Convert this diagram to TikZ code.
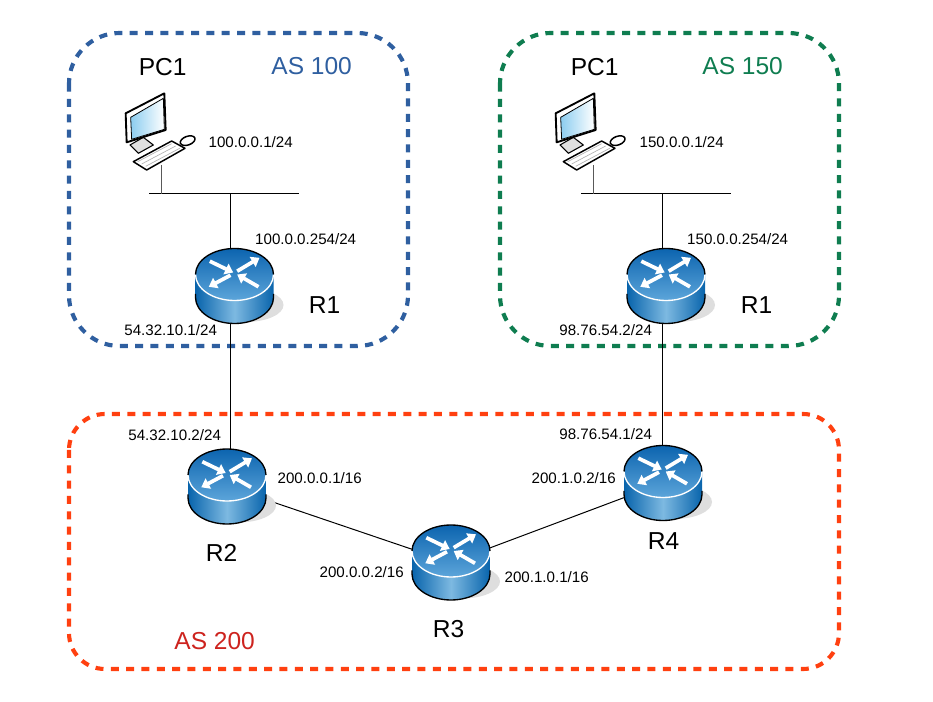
\documentclass[tikz,border=0pt]{standalone}
\usepackage{fontspec}
\setmainfont{Liberation Sans}
\usetikzlibrary{arrows.meta}

\definecolor{asblue}{RGB}{47,95,160}
\definecolor{asgreen}{RGB}{15,125,80}
\definecolor{asorange}{RGB}{255,64,16}
\definecolor{asred}{RGB}{205,35,30}
\definecolor{rtdark}{RGB}{8,100,172}
\definecolor{rtlight}{RGB}{125,185,225}
\definecolor{rttop}{RGB}{12,100,175}
\definecolor{rtmid}{RGB}{92,165,218}
\definecolor{pcscreen}{RGB}{140,205,240}

\tikzset{every picture/.style={line width=0.75pt}}
\tikzset{
  asbox/.style={line width=3.1pt,dash pattern=on 6pt off 5.5pt},
  addr/.style={inner sep=0.75pt,xshift=0.5pt,font=\fontsize{11.35}{13}\selectfont},
  bigname/.style={inner sep=0.75pt,xshift=0.5pt,font=\fontsize{18.4}{21}\selectfont},
  rtnode/.style={inner sep=0pt,minimum width=58pt,minimum height=54pt},
  rtarrow/.style={white,line width=2.8pt,-{Triangle[width=8.5pt,length=6pt]}},
  router/.pic={
    \begin{scope}[yscale=-1]
    \fill [black!13] (11,19) ellipse [x radius=38,y radius=17];
    \shade [left color=rtdark,right color=rtdark,middle color=rtlight]
      (-39,-11.5) -- (-39,11.5) arc [start angle=180,end angle=0,x radius=39,y radius=26] -- (39,-11.5) -- cycle;
    \draw [line width=1pt] (-39,8) -- (-39,11.5) arc [start angle=180,end angle=0,x radius=39,y radius=26] -- (39,8);
    \shade [top color=rttop,bottom color=rtmid] (0,-11.5) ellipse [x radius=39,y radius=26];
    \draw [white,line width=1pt] (-39,-11.5) arc [start angle=180,end angle=0,x radius=39,y radius=26];
    \draw [line width=1pt] (-39,-11.5) arc [start angle=180,end angle=360,x radius=39,y radius=26];
    \draw [rtarrow] (-24.7,-24.8) -- (-1.3,-13.5);
    \draw [rtarrow] (2.7,-14.8) -- (25,-28.2);
    \draw [rtarrow] (-4,-10.8) -- (-25.7,0.8);
    \draw [rtarrow] (24,0.8) -- (2.7,-11.5);
    \end{scope}
  },
  pcicon/.pic={
    \begin{scope}[yscale=-1]
    % stand
    \filldraw [fill=black!12,line width=0.8pt,line join=round] (60,195) -- (100,172) -- (130,195) -- (85,220) -- cycle;
    % monitor
    \filldraw [fill=white,line width=1.4pt,line join=round] (47,100) -- (163,40) -- (167,150) -- (50,187) -- cycle;
    \shade [left color=pcscreen,right color=white] (62,112) -- (160,55) -- (163,148) -- (65,178) -- cycle;
    \draw [line width=0.6pt] (62,112) -- (160,55) -- (163,148) -- (65,178) -- cycle;
    % keyboard
    \filldraw [fill=white,line width=1.1pt,line join=round] (70,245) -- (185,183) -- (225,205) -- (110,270) -- cycle;
    \draw [black!30,line width=0.5pt] (83,245) -- (185,191) (95,252) -- (197,198) (107,259) -- (209,205);
    % mouse
    \filldraw [fill=white,line width=1.1pt,rotate around={-20:(233,182)}] (233,182) ellipse [x radius=23,y radius=13];
    \end{scope}
  }
}

\begin{document}
\begin{tikzpicture}[x=0.75pt,y=0.75pt,yscale=-1,xscale=1]
\useasboundingbox (0,0) rectangle (933,702);

% AS boxes
\draw [asblue,asbox,rounded corners=38pt] (69,33) rectangle (408,346);
\draw [asgreen,asbox,rounded corners=38pt] (500,33) rectangle (839,346);
\draw [asorange,asbox,rounded corners=27pt] (69,414) rectangle (839,669);

% Router and host places
\node [rtnode] (r1a) at (234.5,286) {};
\node [rtnode] (r1b) at (666,286) {};
\node [rtnode] (r2) at (227,486.5) {};
\node [rtnode] (r3) at (451,562.5) {};
\node [rtnode] (r4) at (663,483) {};
\coordinate (pc1a) at (161.5,165);
\coordinate (pc1b) at (593,165);
\coordinate (lan1w) at (149,194);
\coordinate (lan1e) at (299,194);
\coordinate (lan1) at (230,194);
\coordinate (lan2w) at (581,194);
\coordinate (lan2e) at (731,194);
\coordinate (lan2) at (662,194);

% Links
\draw (lan1w) -- (lan1e);
\draw (lan2w) -- (lan2e);
\draw [black!65] (pc1a) -- (pc1a |- lan1);
\draw [black!65] (pc1b) -- (pc1b |- lan2);
\draw (lan1) -- (lan1 |- r1a);
\draw (lan2) -- (lan2 |- r1b);
\draw (lan1 |- r1a) -- (lan1 |- r2);
\draw (lan2 |- r1b) -- (lan2 |- r4);
\draw (r2) -- (r3);
\draw (r3) -- (r4);

% Icons
\pic at (r1a) {router};
\pic at (r1b) {router};
\pic at (r2) {router};
\pic at (r3) {router};
\pic at (r4) {router};
\pic [scale=1/3] at (110,80) {pcicon};
\pic [scale=1/3] at (540,80) {pcicon};

% Text Node
\node [bigname] (pcname1) at (162,67) {PC1};
\node [bigname,asblue] (as100) at (311,66) {AS 100};
\node [addr] (ip1) at (250,142) {100.0.0.1/24};
\node [addr] (ip2) at (305,239) {100.0.0.254/24};
\node [bigname] (name1a) at (324,305) {R1};
\node [addr] (ip3) at (170,330) {54.32.10.1/24};
% Text Node
\node [bigname] (pcname2) at (594,67) {PC1};
\node [bigname,asgreen] (as150) at (742,66) {AS 150};
\node [addr] (ip4) at (681,142) {150.0.0.1/24};
\node [addr] (ip5) at (737,239) {150.0.0.254/24};
\node [bigname] (name1b) at (756,305) {R1};
\node [addr] (ip6) at (605,330) {98.76.54.2/24};
% Text Node
\node [addr] (ip7) at (174,435) {54.32.10.2/24};
\node [addr] (ip8) at (605,434) {98.76.54.1/24};
\node [addr] (ip9) at (319,478) {200.0.0.1/16};
\node [addr] (ip10) at (573,478) {200.1.0.2/16};
\node [addr] (ip11) at (361,572) {200.0.0.2/16};
\node [addr] (ip12) at (546,577) {200.1.0.1/16};
\node [bigname] (name2) at (221,553) {R2};
\node [bigname] (name3) at (448,629) {R3};
\node [bigname] (name4) at (663,541) {R4};
\node [bigname,asred] (as200) at (214,641) {AS 200};

\end{tikzpicture}
\end{document}
